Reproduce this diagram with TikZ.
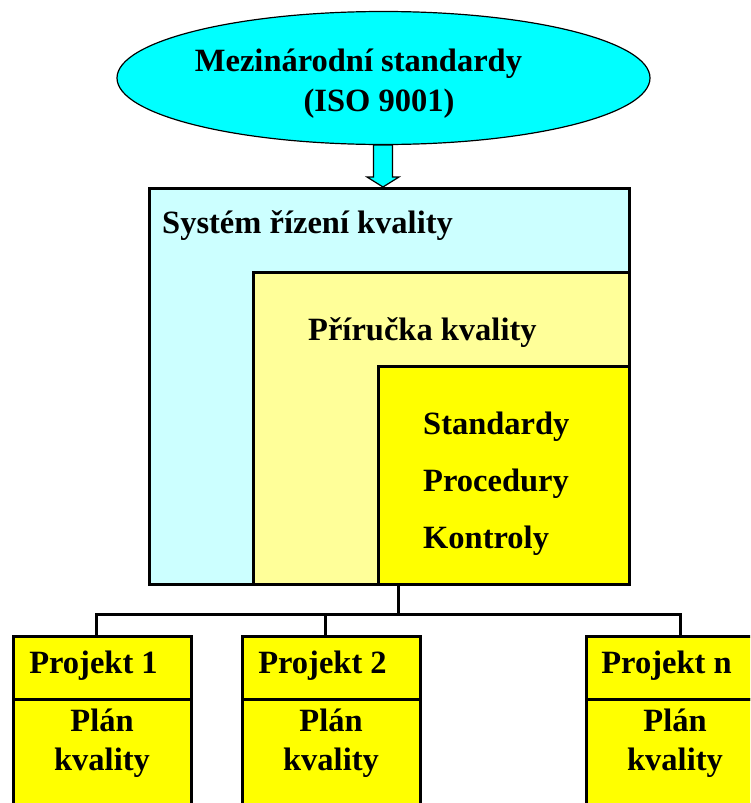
\documentclass[tikz,border=0pt]{standalone}
\usepackage{fontspec}
\setmainfont{Liberation Serif}
\usetikzlibrary{shapes.geometric,calc}
\definecolor{cyanA}{HTML}{00FFFF}
\definecolor{cyanL}{HTML}{CCFFFF}
\definecolor{yelL}{HTML}{FFFF99}
\definecolor{yelA}{HTML}{FFFF00}
\begin{document}
\begin{tikzpicture}[x=1pt,y=-1pt,
  box/.style={draw=black,line width=2.8pt,rectangle,inner sep=0pt,anchor=north west},
  lbl/.style={font=\fontsize{32.5}{39}\selectfont\bfseries,inner sep=0pt,anchor=base},
  conn/.style={line width=3pt}]
\useasboundingbox (0,0) rectangle (750,803);
\clip (0,0) rectangle (750,803);
% ellipse
\node[ellipse,draw=black,line width=1.2pt,fill=cyanA,minimum width=533pt,minimum height=133pt,inner sep=0pt] (iso) at (383.5,78) {};
\node[lbl] (isot1) at (358.5,71) {Mezinárodní standardy};
\node[lbl] (isot2) at (379,111) {(ISO 9001)};
% boxes
\node[box,fill=cyanL,minimum width=480pt,minimum height=396pt] (sys) at (148,187) {};
\node[box,fill=yelL,minimum width=376pt,minimum height=312pt] (man) at (252,271) {};
\node[box,fill=yelA,minimum width=251pt,minimum height=218pt] (std) at (377,365) {};
% block arrow
\filldraw[fill=cyanA,draw=black,line width=1.2pt]
  (373.5,145) -- (392.5,145) -- (392.5,177) -- (399,177) -- (383,187) -- (367,177) -- (373.5,177) -- cycle;
% texts
\node[lbl,anchor=base west] (syst) at (162,233) {Systém řízení kvality};
\node[lbl,anchor=base west] (mant) at (308,340) {Příručka kvality};
\node[lbl,anchor=base west] (s1) at (423,434) {Standardy};
\node[lbl,anchor=base west] (s2) at (423,491) {Procedury};
\node[lbl,anchor=base west] (s3) at (423,548) {Kontroly};
% project boxes
\foreach \n/\x/\t in {p1/12/Projekt 1,p2/241/Projekt 2,p3/585/Projekt n}{
  \node[box,fill=yelA,minimum width=178pt,minimum height=63pt] (\n h) at (\x,635) {};
  \node[box,fill=yelA,minimum width=178pt,minimum height=130pt] (\n b) at (\x,698) {};
  \node[lbl] (\n t) at (\x+81.5,673) {\t};
  \node[lbl] (\n p) at (\x+90,731) {Plán};
  \node[lbl] (\n k) at (\x+90,770) {kvality};
}
% tree
\coordinate (top) at (398,583);
\coordinate (hub) at (398,614);
\coordinate (l1) at (96,614);
\coordinate (l2) at (325,614);
\coordinate (l3) at (680,614);
\draw[conn] (top) -- (hub);
\draw[conn,line cap=rect] (l1) -- (l3);
\draw[conn] (l1) -- (l1 |- p1h.north);
\draw[conn] (l2) -- (l2 |- p2h.north);
\draw[conn] (l3) -- (l3 |- p3h.north);
\end{tikzpicture}
\end{document}
